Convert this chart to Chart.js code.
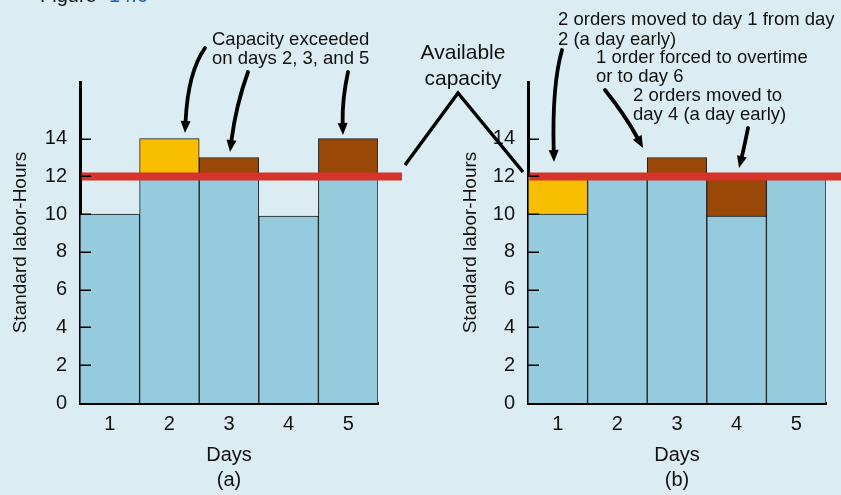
<!DOCTYPE html>
<html><head><meta charset="utf-8">
<script src="https://cdn.jsdelivr.net/npm/chart.js@4/dist/chart.umd.min.js"></script>
<style>
html,body{margin:0;padding:0;background:#dbedf3;width:841px;height:495px;overflow:hidden;}
canvas{position:absolute;top:0;}
#ca{left:0;}
#cb{left:404px;}
</style></head><body>
<canvas id="ca" width="404" height="495"></canvas>
<canvas id="cb" width="437" height="495"></canvas>
<script>
// ---- data ----
const days = ['1', '2', '3', '4', '5'];
const yTickValues = [0, 2, 4, 6, 8, 10, 12, 14];
const capacity = 12;
const yMax = 17;
// (a) load before leveling
const loadA = [10, 12, 12, 9.9, 12];
const overA_yellow = [null, 2, null, null, null];
const overA_brown = [null, null, 1, null, 2];
// (b) load after leveling
const loadB = [10, 12, 12, 9.9, 12];
const movedB_yellow = [2, null, null, null, null];
const movedB_brown = [null, null, 1, 2.1, null];

// ---- styles ----
const FONT = '"Liberation Sans", Arial, Helvetica, sans-serif';
const C = {blue:'#95cbdd', yellow:'#f8bf00', brown:'#994807', red:'#d6332a', ink:'#111111', axis:'#000000', edge:'#1c1c1c'};

// annotations (page pixel positions)
const notesA = {
  texts: [
    {t:'Capacity exceeded', x:212, y:40, size:18.5},
    {t:'on days 2, 3, and 5', x:212, y:59, size:18.5},
    {t:'Figure', x:40, y:2, size:20, base:'alphabetic'},
    {t:'14.6', x:109, y:2, size:20, base:'alphabetic', color:'#1f5fb4'}
  ],
  arrows: [
    [205,48, 188,72, 185,133],
    [248,72, 236,105, 230,152],
    [348,72, 342,100, 343,135]
  ],
  polys: []
};
const notesB = {
  texts: [
    {t:'Available', x:463, y:53, size:21, align:'center'},
    {t:'capacity', x:463, y:79, size:21, align:'center'},
    {t:'2 orders moved to day 1 from day', x:558, y:20, size:18.5},
    {t:'2 (a day early)', x:558, y:40, size:18.5},
    {t:'1 order forced to overtime', x:596, y:58, size:18.5},
    {t:'or to day 6', x:596, y:77, size:18.5},
    {t:'2 orders moved to', x:633, y:96, size:18.5},
    {t:'day 4 (a day early)', x:633, y:115, size:18.5}
  ],
  arrows: [
    [562,50, 552,85, 554,162],
    [605,90, 625,115, 643,148],
    [748,128, 744,148, 739,168]
  ],
  polys: [[[405,165],[458,93],[523,172]]]
};

// ---- plugins ----
const capacityLine = {
  id: 'capacityLine',
  afterDatasetsDraw(chart, args, opts) {
    const {ctx, chartArea, scales} = chart;
    const py = scales.y.getPixelForValue(capacity);
    const right = opts.toEdge ? chart.width : chartArea.right + opts.extend;
    ctx.save();
    ctx.strokeStyle = C.red;
    ctx.lineWidth = 8;
    ctx.beginPath();
    ctx.moveTo(chartArea.left + 1.5, py);
    ctx.lineTo(right, py);
    ctx.stroke();
    ctx.restore();
  }
};
const innerTicks = {
  id: 'innerTicks',
  afterDatasetsDraw(chart) {
    const {ctx, chartArea, scales} = chart;
    ctx.save();
    ctx.strokeStyle = C.axis;
    ctx.lineWidth = 1.5;
    yTickValues.forEach(v => {
      if (v === 0) return;
      const py = Math.round(scales.y.getPixelForValue(v)) + 0.25;
      ctx.beginPath();
      ctx.moveTo(chartArea.left, py);
      ctx.lineTo(chartArea.left + 11, py);
      ctx.stroke();
    });
    ctx.restore();
  }
};
const notes = {
  id: 'notes',
  afterDraw(chart, args, opts) {
    const ctx = chart.ctx;
    const ox = chart.canvas.offsetLeft;
    ctx.save();
    opts.texts.forEach(n => {
      ctx.font = n.size + 'px ' + FONT;
      ctx.fillStyle = n.color || C.ink;
      ctx.textAlign = n.align || 'left';
      ctx.textBaseline = n.base || 'middle';
      ctx.fillText(n.t, n.x - ox, n.y);
    });
    ctx.strokeStyle = '#000';
    ctx.fillStyle = '#000';
    ctx.lineWidth = 3.8;
    ctx.lineCap = 'round';
    ctx.lineJoin = 'miter';
    opts.arrows.forEach(a => {
      const [x0,y0,cx,cy,x1,y1] = a.map((v,i) => i % 2 === 0 ? v - ox : v);
      const ang = Math.atan2(y1 - cy, x1 - cx);
      const L = 12, W = 5;
      const bx = x1 - L * Math.cos(ang), by = y1 - L * Math.sin(ang);
      ctx.beginPath();
      ctx.moveTo(x0, y0);
      ctx.quadraticCurveTo(cx, cy, bx, by);
      ctx.stroke();
      ctx.beginPath();
      ctx.moveTo(x1, y1);
      ctx.lineTo(bx - W * Math.sin(ang), by + W * Math.cos(ang));
      ctx.lineTo(bx + W * Math.sin(ang), by - W * Math.cos(ang));
      ctx.closePath();
      ctx.fill();
    });
    ctx.lineCap = 'butt';
    ctx.lineWidth = 3.5;
    opts.polys.forEach(p => {
      ctx.beginPath();
      p.forEach((pt, i) => i ? ctx.lineTo(pt[0] - ox, pt[1]) : ctx.moveTo(pt[0] - ox, pt[1]));
      ctx.stroke();
    });
    ctx.restore();
  }
};

function makeChart(id, caption, base, yellow, brown, o) {
  return new Chart(document.getElementById(id), {
    type: 'bar',
    data: {
      labels: days,
      datasets: [
        {data: base, backgroundColor: C.blue},
        {data: yellow, backgroundColor: C.yellow},
        {data: brown, backgroundColor: C.brown}
      ]
    },
    options: {
      responsive: false,
      animation: false,
      devicePixelRatio: 1,
      layout: {padding: {left: o.padLeft, right: o.padRight, top: 82, bottom: 0}},
      datasets: {bar: {barPercentage: 1, categoryPercentage: 1, borderColor: C.edge, borderWidth: 1, borderSkipped: 'start'}},
      plugins: {
        legend: {display: false},
        tooltip: {enabled: false},
        capacityLine: o.capacity,
        notes: o.notes
      },
      scales: {
        x: {
          stacked: true,
          grid: {display: false, drawTicks: false},
          border: {display: true, width: 3, color: C.axis},
          ticks: {color: C.ink, font: {family: FONT, size: 20}, padding: 9},
          title: {display: true, text: ['Days', caption], color: C.ink,
                  font: {family: FONT, size: 20, lineHeight: 1.25}, padding: {top: 0, bottom: 2.5}},
          afterFit(s) { s.height = 92; }
        },
        y: {
          stacked: true,
          min: 0,
          max: yMax,
          grid: {display: false, drawTicks: false},
          border: {display: true, width: 3, color: C.axis},
          afterBuildTicks(s) { s.ticks = yTickValues.map(v => ({value: v})); },
          ticks: {color: C.ink, font: {family: FONT, size: 20}, padding: 13},
          title: {display: true, text: 'Standard labor-Hours', color: C.ink,
                  font: {family: FONT, size: 19}, padding: {top: 9, bottom: 0}},
          afterFit(s) { s.width = o.yWidth; }
        }
      }
    },
    plugins: [capacityLine, innerTicks, notes]
  });
}

makeChart('ca', '(a)', loadA, overA_yellow, overA_brown,
  {padLeft: 0, padRight: 26, yWidth: 80, capacity: {extend: 24, toEdge: false}, notes: notesA});
makeChart('cb', '(b)', loadB, movedB_yellow, movedB_brown,
  {padLeft: 46, padRight: 15, yWidth: 78, capacity: {extend: 0, toEdge: true}, notes: notesB});
</script>
</body></html>
